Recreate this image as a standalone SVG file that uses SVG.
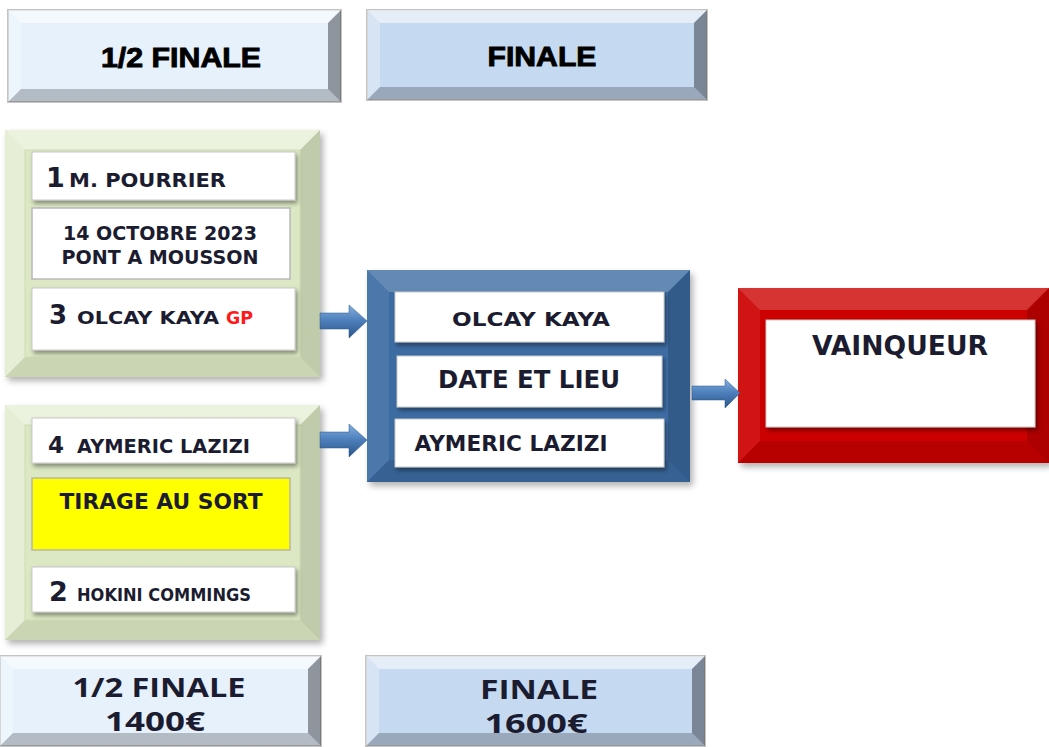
<svg xmlns="http://www.w3.org/2000/svg" width="1049" height="747" viewBox="0 0 1049 747">
<defs>
<filter id="sh" x="-10%" y="-10%" width="125%" height="130%"><feDropShadow dx="3" dy="4" stdDeviation="3" flood-color="#000" flood-opacity="0.3"/></filter>
<filter id="sh2" x="-10%" y="-20%" width="125%" height="150%"><feDropShadow dx="2" dy="3" stdDeviation="2" flood-color="#000" flood-opacity="0.4"/></filter>
<linearGradient id="ag" x1="0" y1="0" x2="0" y2="1"><stop offset="0" stop-color="#86afe0"/><stop offset="0.45" stop-color="#4f81bd"/><stop offset="1" stop-color="#2b558a"/></linearGradient>
</defs>
<style>
.bt{fill:#fff;fill-opacity:.55}
.bl{fill:#fff;fill-opacity:.3}
.br{fill:#000;fill-opacity:.38}
.bb{fill:#000;fill-opacity:.22}
.soft .bt{fill-opacity:.45}
.soft .br{fill-opacity:.12}
.soft .bb{fill-opacity:.08}
.dim .bt{fill-opacity:.2}
.dim .bl{fill-opacity:.08}
.dim .br{fill-opacity:.15}
.dim .bb{fill-opacity:.1}
.card{fill:#fff;stroke:#c8c8c8;stroke-width:1;filter:url(#sh2)}
.flat{fill:#fff;stroke:#b8b8b8;stroke-width:1.5}
.hdr{font-family:"Liberation Sans",Arial,sans-serif;font-weight:bold;font-size:28px;fill:#000;stroke:#000;stroke-width:0.9;text-anchor:middle}
.t{font-family:"DejaVu Sans",Verdana,sans-serif;font-weight:bold;fill:#1c1c30}
.m{text-anchor:middle}
.red{fill:#ff1a1a}
.b{font-family:"Open Sans","DejaVu Sans",sans-serif;font-weight:bold;font-size:26px;fill:#1c1c30;text-anchor:middle}
.arrow{fill:url(#ag);stroke:#2b558a;stroke-width:0.5}
</style>

<g id="header-semi">
<rect x="8" y="10" width="333" height="92" fill="#e6f1fc" stroke="#c4c4c4" stroke-width="2"/>
<polygon class="bt" points="8,10 341,10 328,23 21,23"/>
<polygon class="bl" points="8,10 21,23 21,89 8,102"/>
<polygon class="br" points="341,10 341,102 328,89 328,23"/>
<polygon class="bb" points="8,102 341,102 328,89 21,89"/>
<text class="hdr" x="181" y="67" textLength="160" lengthAdjust="spacingAndGlyphs">1/2 FINALE</text>
</g>

<g id="header-final">
<rect x="367" y="10" width="340" height="90" fill="#c5d9f0" stroke="#c4c4c4" stroke-width="2"/>
<polygon class="bt" points="367,10 707,10 694,23 380,23"/>
<polygon class="bl" points="367,10 380,23 380,87 367,100"/>
<polygon class="br" points="707,10 707,100 694,87 694,23"/>
<polygon class="bb" points="367,100 707,100 694,87 380,87"/>
<text class="hdr" x="542" y="66" textLength="109" lengthAdjust="spacingAndGlyphs">FINALE</text>
</g>

<g id="semi1" class="soft">
<rect x="5" y="130" width="315" height="247" fill="#dbe8c3" filter="url(#sh)"/>
<polygon class="bt" points="5,130 320,130 300,150 25,150"/>
<polygon class="bl" points="5,130 25,150 25,357 5,377"/>
<polygon class="br" points="320,130 320,377 300,357 300,150"/>
<polygon class="bb" points="5,377 320,377 300,357 25,357"/>
<rect x="25" y="150" width="275" height="207" fill="none" stroke="#cfdcb6" stroke-width="1"/>
<rect class="card" x="32" y="152" width="263" height="48"/>
<text class="t" x="46" y="187" font-size="27">1</text>
<text class="t" x="69" y="187" font-size="19" textLength="157" lengthAdjust="spacingAndGlyphs">M. POURRIER</text>
<rect class="flat" x="32" y="208" width="258" height="71"/>
<text class="t m" x="160" y="240" font-size="20" textLength="194" lengthAdjust="spacingAndGlyphs">14 OCTOBRE 2023</text>
<text class="t m" x="160" y="264" font-size="20" textLength="197" lengthAdjust="spacingAndGlyphs">PONT A MOUSSON</text>
<rect class="card" x="32" y="288" width="263" height="62"/>
<text class="t" x="49" y="324" font-size="26">3</text>
<text class="t" x="77" y="324" font-size="18" textLength="142" lengthAdjust="spacingAndGlyphs">OLCAY KAYA</text>
<text class="t red" x="226" y="324" font-size="18" textLength="27" lengthAdjust="spacingAndGlyphs">GP</text>
</g>

<g id="semi2" class="soft">
<rect x="5" y="405" width="315" height="235" fill="#dbe8c3" filter="url(#sh)"/>
<polygon class="bt" points="5,405 320,405 300,425 25,425"/>
<polygon class="bl" points="5,405 25,425 25,620 5,640"/>
<polygon class="br" points="320,405 320,640 300,620 300,425"/>
<polygon class="bb" points="5,640 320,640 300,620 25,620"/>
<rect x="25" y="425" width="275" height="195" fill="none" stroke="#cfdcb6" stroke-width="1"/>
<rect class="card" x="32" y="418" width="263" height="45"/>
<text class="t" x="48" y="453" font-size="23">4</text>
<text class="t" x="77" y="453" font-size="19" textLength="173" lengthAdjust="spacingAndGlyphs">AYMERIC LAZIZI</text>
<rect x="32" y="478" width="258" height="72" fill="#ffff00" stroke="#b8b8a0" stroke-width="1.5"/>
<text class="t m" x="161" y="509" font-size="21" textLength="203" lengthAdjust="spacingAndGlyphs">TIRAGE AU SORT</text>
<rect class="card" x="32" y="567" width="263" height="45"/>
<text class="t" x="49" y="601" font-size="27">2</text>
<text class="t" x="77" y="601" font-size="17" textLength="174" lengthAdjust="spacingAndGlyphs">HOKINI COMMINGS</text>
</g>

<g id="final" class="dim">
<rect x="367" y="270" width="323" height="212" fill="#3d6ca3" filter="url(#sh)"/>
<polygon class="bt" points="367,270 690,270 668,292 389,292"/>
<polygon class="bl" points="367,270 389,292 389,460 367,482"/>
<polygon class="br" points="690,270 690,482 668,460 668,292"/>
<polygon class="bb" points="367,482 690,482 668,460 389,460"/>
<rect class="card" x="395" y="292" width="269" height="50"/>
<text class="t m" x="531" y="326" font-size="20" textLength="158" lengthAdjust="spacingAndGlyphs">OLCAY KAYA</text>
<rect class="card" x="397" y="356" width="265" height="51"/>
<text class="t m" x="529" y="388" font-size="25" textLength="182" lengthAdjust="spacingAndGlyphs">DATE ET LIEU</text>
<rect class="card" x="395" y="419" width="269" height="48"/>
<text class="t m" x="511" y="451" font-size="22" textLength="193" lengthAdjust="spacingAndGlyphs">AYMERIC LAZIZI</text>
</g>

<g id="winner" class="dim">
<rect x="738" y="288" width="311" height="175" fill="#cc0000" filter="url(#sh)"/>
<polygon class="bt" points="738,288 1049,288 1027,310 760,310"/>
<polygon class="bl" points="738,288 760,310 760,441 738,463"/>
<polygon class="br" points="1049,288 1049,463 1027,441 1027,310"/>
<polygon class="bb" points="738,463 1049,463 1027,441 760,441"/>
<rect class="card" x="766" y="320" width="269" height="107" stroke="none"/>
<text class="t m" x="900" y="355" font-size="26" textLength="176" lengthAdjust="spacingAndGlyphs">VAINQUEUR</text>
</g>

<g id="connectors">
<polygon class="arrow" points="320,313 349,313 349,305 367,321 349,338 349,329 320,329"/>
<polygon class="arrow" points="320,432 349,432 349,424 367,440 349,457 349,448 320,448"/>
<polygon class="arrow" points="692,386 725,386 725,379 740,393 725,408 725,400 692,400"/>
</g>

<g id="prize-semi">
<rect x="0" y="656" width="321" height="90" fill="#e6f1fc" stroke="#c4c4c4" stroke-width="2"/>
<polygon class="bt" points="0,656 321,656 308,669 13,669"/>
<polygon class="bl" points="0,656 13,669 13,733 0,746"/>
<polygon class="br" points="321,656 321,746 308,733 308,669"/>
<polygon class="bb" points="0,746 321,746 308,733 13,733"/>
<text class="b" x="159" y="697" textLength="173" lengthAdjust="spacingAndGlyphs">1/2 FINALE</text>
<text class="b" x="155" y="731" textLength="100" lengthAdjust="spacingAndGlyphs">1400€</text>
</g>

<g id="prize-final">
<rect x="366" y="656" width="339" height="90" fill="#c5d9f0" stroke="#c4c4c4" stroke-width="2"/>
<polygon class="bt" points="366,656 705,656 692,669 379,669"/>
<polygon class="bl" points="366,656 379,669 379,733 366,746"/>
<polygon class="br" points="705,656 705,746 692,733 692,669"/>
<polygon class="bb" points="366,746 705,746 692,733 379,733"/>
<text class="b" x="539" y="699" textLength="118" lengthAdjust="spacingAndGlyphs">FINALE</text>
<text class="b" x="536" y="733" textLength="103" lengthAdjust="spacingAndGlyphs">1600€</text>
</g>
</svg>
